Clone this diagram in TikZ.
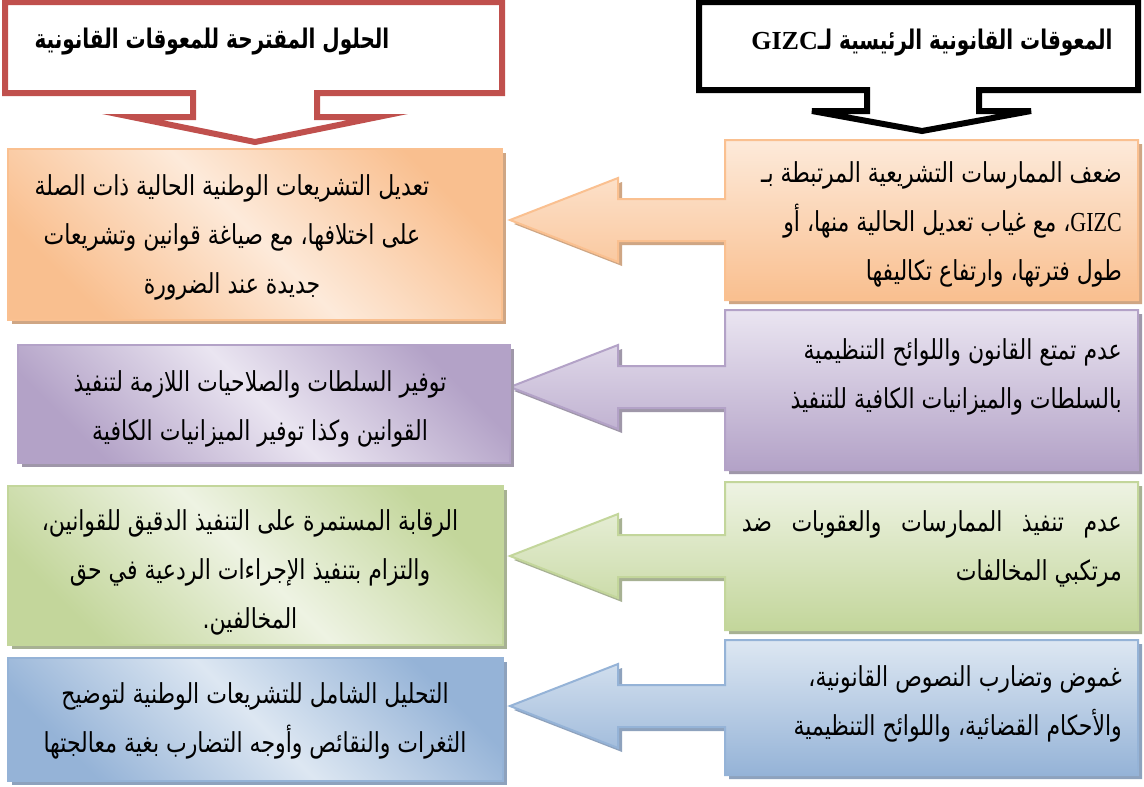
\documentclass[tikz,border=0pt]{standalone}
\usepackage{fontspec}
\usepackage{graphicx}
\newfontfamily\arabicfont[Script=Arabic]{DejaVu Sans}
\newfontfamily\latinfont{Liberation Serif}
\TeXXeTstate=1

% palette
\definecolor{hdrred}{HTML}{C0504D}
\definecolor{ordark}{HTML}{F9BF8F}
\definecolor{orlight}{HTML}{FDEADA}
\definecolor{orline}{HTML}{FAC090}
\definecolor{orshadow}{HTML}{CFA684}
\definecolor{pudark}{HTML}{B3A2C7}
\definecolor{pulight}{HTML}{EAE5F1}
\definecolor{puline}{HTML}{B3A2C7}
\definecolor{pushadow}{HTML}{9F97A9}
\definecolor{grdark}{HTML}{C3D69B}
\definecolor{grlight}{HTML}{EEF3E3}
\definecolor{grline}{HTML}{C3D69B}
\definecolor{grshadow}{HTML}{A7B193}
\definecolor{bldark}{HTML}{95B3D7}
\definecolor{bllight}{HTML}{DDE7F2}
\definecolor{blline}{HTML}{95B3D7}
\definecolor{blshadow}{HTML}{8EA2BD}

% one right-to-left line, drawn a little taller than the font's natural shape
\newcommand\rtl[1]{\scalebox{1}[1.25]{\beginR #1\endR}}
\newcommand\hrtl[1]{\scalebox{1}[1.35]{\beginR #1\endR}}

% obstacle callout (right column): box with a left-pointing arrow
% #1 top, #2 bottom, #3 arrow axis, #4 colour prefix
\newcommand\obstaclebox[4]{%
  \fill[#4shadow, shift={(4,4)}]
    (1138,#1) -- (1138,#2) -- (725,#2) -- (725,#3+21) -- (618,#3+21)
    -- (618,#3+42) -- (510,#3) -- (618,#3-42) -- (618,#3-21) -- (725,#3-21)
    -- (725,#1) -- cycle;
  \draw[#4line, line width=2, top color=#4light, bottom color=#4dark]
    (1138,#1) -- (1138,#2) -- (725,#2) -- (725,#3+21) -- (618,#3+21)
    -- (618,#3+42) -- (510,#3) -- (618,#3-42) -- (618,#3-21) -- (725,#3-21)
    -- (725,#1) -- cycle;
}
% solution box (left column)
% #1 left, #2 top, #3 right, #4 bottom, #5 colour prefix
\newcommand\solutionbox[5]{%
  \fill[#5shadow] (#1+4,#2+4) rectangle (#3+4,#4+4);
  \draw[#5line, line width=1.5, top color=#5dark, bottom color=#5dark,
        middle color=#5light, shading angle=-45] (#1,#2) rectangle (#3,#4);
}

\tikzset{
  hdrtext/.style={font=\arabicfont\bfseries\fontsize{20}{25}\selectfont, inner sep=0pt},
  bodytext/.style={font=\arabicfont\fontsize{22}{49}\selectfont, inner sep=0pt},
  header/.style={line width=6, fill=white, line join=miter}
}

\begin{document}
\begin{tikzpicture}[x=1pt,y=-1pt]
\useasboundingbox (0,0) rectangle (1144,787);
\fill[white] (0,0) rectangle (1144,787);

% heading callouts
\draw[header, draw=hdrred] (5,2) -- (502,2) -- (502,93) -- (317,93) -- (317,117)
  -- (378,117) -- (255,142) -- (132,117) -- (193,117) -- (193,93) -- (5,93) -- cycle;
\draw[header, draw=black] (699,2) -- (1138,2) -- (1138,90) -- (979,90) -- (979,111)
  -- (1031,111) -- (922,131) -- (812,111) -- (867,111) -- (867,90) -- (699,90) -- cycle;

\node[hdrtext] (hsol) at (212,42) {\hrtl{الحلول المقترحة للمعوقات القانونية}};
% the Latin acronym sits at the left end of the heading
\node[hdrtext] (hobs) at (932,43) {{\latinfont\bfseries\fontsize{26}{26}\selectfont GIZC}\hrtl{المعوقات القانونية الرئيسية لـ}};

% obstacles
\obstaclebox{140}{300}{220}{or}
\obstaclebox{310}{470}{387}{pu}
\obstaclebox{482}{630}{556}{gr}
\obstaclebox{640}{775}{706}{bl}

% solutions
\solutionbox{8}{149}{502}{320}{or}
\solutionbox{18}{345}{510}{463}{pu}
\solutionbox{8}{486}{503}{645}{gr}
\solutionbox{8}{658}{503}{781}{bl}

% obstacle texts
\node[bodytext, align=right, anchor=east] (o1) at (1122,224) {%
  \rtl{ضعف الممارسات التشريعية المرتبطة بـ}\\
  \rtl{\beginL{\latinfont GIZC}\endL، مع غياب تعديل الحالية منها، أو}\\
  \rtl{طول فترتها، وارتفاع تكاليفها}};
\node[bodytext, align=right, anchor=east] (o2) at (1122,377) {%
  \rtl{عدم تمتع القانون واللوائح التنظيمية}\\
  \rtl{بالسلطات والميزانيات الكافية للتنفيذ}};
\node[bodytext, align=right, anchor=east] (o3) at (1122,549) {%
  \scalebox{1}[1.25]{\hbox to 380pt{\beginR عدم\hfill تنفيذ\hfill الممارسات\hfill والعقوبات\hfill ضد\endR}}\\
  \rtl{مرتكبي المخالفات}};
\node[bodytext, align=right, anchor=east] (o4) at (1122,704) {%
  \rtl{غموض وتضارب النصوص القانونية،}\\
  \rtl{والأحكام القضائية، واللوائح التنظيمية}};

% solution texts
\node[bodytext, align=center] (s1) at (232,237) {%
  \rtl{تعديل التشريعات الوطنية الحالية ذات الصلة}\\
  \rtl{على اختلافها، مع صياغة قوانين وتشريعات}\\
  \rtl{جديدة عند الضرورة}};
\node[bodytext, align=center] (s2) at (260,409) {%
  \rtl{توفير السلطات والصلاحيات اللازمة لتنفيذ}\\
  \rtl{القوانين وكذا توفير الميزانيات الكافية}};
\node[bodytext, align=center] (s3) at (250,572) {%
  \rtl{الرقابة المستمرة على التنفيذ الدقيق للقوانين،}\\
  \rtl{والتزام بتنفيذ الإجراءات الردعية في حق}\\
  \rtl{المخالفين.}};
\node[bodytext, align=center] (s4) at (255,721) {%
  \rtl{التحليل الشامل للتشريعات الوطنية لتوضيح}\\
  \rtl{الثغرات والنقائص وأوجه التضارب بغية معالجتها}};
\end{tikzpicture}
\end{document}
